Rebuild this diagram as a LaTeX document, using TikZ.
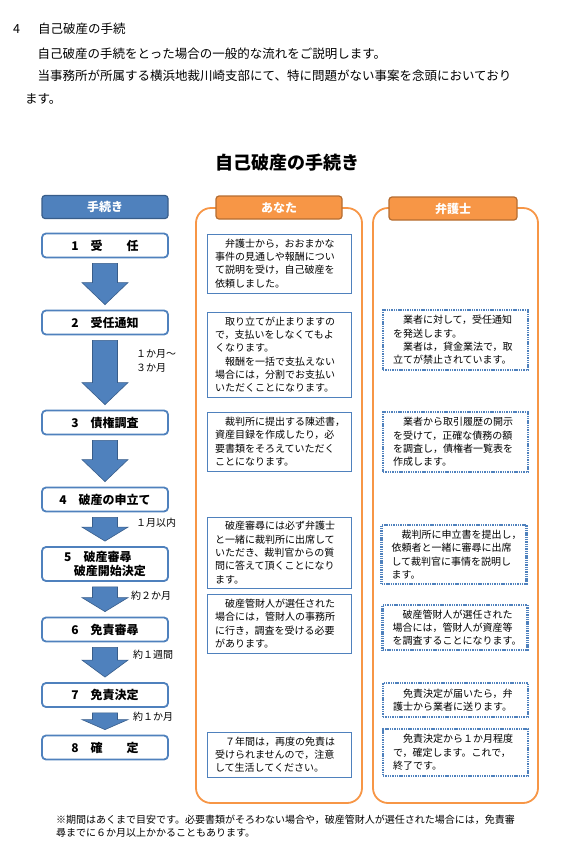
\documentclass[tikz,border=0pt]{standalone}
\usepackage{fontspec}
\setmainfont{Noto Sans CJK JP}
\usetikzlibrary{calc}

\definecolor{stepblue}{HTML}{4F81BD}
\definecolor{darkblue}{HTML}{385D8A}
\definecolor{orng}{HTML}{F79646}
\definecolor{darkorng}{HTML}{B66D31}

\begin{document}
\begin{tikzpicture}[x=1pt, y=-1pt,
  font=\fontsize{10}{13.3}\selectfont,
  head/.style={rounded corners=3pt, line width=1.2pt, text=white, inner sep=0pt,
               font=\bfseries\fontsize{12}{14}\selectfont,
               minimum width=126pt, minimum height=23pt},
  bluehead/.style={head, fill=stepblue, draw=darkblue},
  orghead/.style={head, fill=orng, draw=darkorng},
  stepbox/.style={draw=stepblue, line width=1.8pt, rounded corners=4pt, fill=white,
                  minimum width=126pt, minimum height=24pt, inner sep=0pt, align=center,
                  font=\bfseries\fontsize{12}{14}\selectfont},
  column/.style={draw=orng, line width=1.8pt, rounded corners=15pt,
                 minimum width=166pt, minimum height=595pt},
  note/.style={draw=stepblue, line width=0.8pt, align=left, text width=128pt,
               inner xsep=8pt, inner ysep=0pt},
  lawnote/.style={draw=stepblue, line width=2.2pt, dash pattern=on 1.4pt off 0.9pt,
                  align=left, text width=125pt, inner xsep=10pt, inner ysep=0pt},
  period/.style={anchor=west, align=left, inner sep=0pt},
  barrow/.style={draw=darkblue, fill=stepblue, line width=0.6pt,
    to path={let \p1=(\tikztostart.south), \p2=(\tikztotarget.north) in
      (\x1-12.5pt,\y1-5pt) -- (\x1+12.5pt,\y1-5pt) -- (\x1+12.5pt,\y2+5pt+#1)
      -- (\x1+23pt,\y2+5pt+#1) -- (\x1,\y2+5pt) -- (\x1-23pt,\y2+5pt+#1)
      -- (\x1-12.5pt,\y2+5pt+#1) -- cycle}},
  barrow/.default=22pt,
]
\useasboundingbox[fill=white] (0,0) rectangle (586,847);
% page text above the chart
\node[anchor=west, inner sep=0pt, font=\fontsize{12.5}{15}\selectfont] (secno) at (13,29) {4};
\node[anchor=west, inner sep=0pt, font=\fontsize{12.5}{15}\selectfont] (sectitle) at (38,29) {自己破産の手続};
\node[anchor=north west, inner sep=0pt, align=left, font=\fontsize{12.5}{22.4}\selectfont]
  (intro) at (25,47.5) {　自己破産の手続をとった場合の一般的な流れをご説明します。\\
  　当事務所が所属する横浜地裁川崎支部にて、特に問題がない事案を念頭においており\\ます。};
\node[font=\bfseries\fontsize{18}{20}\selectfont] (title) at (287,163) {自己破産の手続き};
% column frames and headings
\node[column] (youcol) at (279,505.5) {};
\node[column, minimum width=165pt] (lawcol) at (455.5,505.5) {};
\node[bluehead] (stephead) at (105,207) {手続き};
\node[orghead] (youhead) at (279,207.5) {あなた};
\node[orghead, minimum width=128pt] (lawhead) at (453,208.5) {弁護士};
% steps
\node[stepbox] (s1) at (105,245.5) {1\hspace{1em}受　　任};
\node[stepbox] (s2) at (105,322.5) {2\hspace{1em}受任通知};
\node[stepbox] (s3) at (105,422.5) {3\hspace{1em}債権調査};
\node[stepbox] (s4) at (105,499.5) {4\hspace{1em}破産の申立て};
\node[stepbox, minimum height=34pt, align=left] (s5) at (105,564)
  {5\hspace{1em}破産審尋\\\hspace*{0.8em}破産開始決定};
\node[stepbox] (s6) at (105,629.5) {6\hspace{1em}免責審尋};
\node[stepbox] (s7) at (105,695) {7\hspace{1em}免責決定};
\node[stepbox] (s8) at (105,747.5) {8\hspace{1em}確　　定};
\draw[barrow] (s1) to (s2);
\draw[barrow] (s2) to (s3);
\draw[barrow] (s3) to (s4);
\draw[barrow=14pt] (s4) to (s5);
\draw[barrow=14pt] (s5) to (s6);
\draw[barrow=17pt] (s6) to (s7);
\draw[barrow=10pt] (s7) to (s8);
% periods
\node[period] (p2) at (136,361) {１か月～\\３か月};
\node[period] (p4) at (136,523) {１月以内};
\node[period] (p5) at (131,596) {約２か月};
\node[period] (p6) at (133,655) {約１週間};
\node[period] (p7) at (133,717) {約１か月};
% what you do
\node[note, minimum height=59pt] (a1) at (279,263.5)
  {　弁護士から，おおまかな\\事件の見通しや報酬につい\\て説明を受け，自己破産を\\依頼しました。};
\node[note, minimum height=85pt] (a2) at (279,354.5)
  {　取り立てが止まりますの\\で，支払いをしなくてもよ\\くなります。\\　報酬を一括で支払えない\\場合には，分割でお支払い\\いただくことになります。};
\node[note, minimum height=59pt] (a3) at (279,441.5)
  {　裁判所に提出する陳述書，\\資産目録を作成したり，必\\要書類をそろえていただく\\ことになります。};
\node[note, minimum height=71pt] (a4) at (279,552.5)
  {　破産審尋には必ず弁護士\\と一緒に裁判所に出席して\\いただき、裁判官からの質\\問に答えて頂くことになり\\ます。};
\node[note, minimum height=59pt] (a5) at (279,623.5)
  {　破産管財人が選任された\\場合には，管財人の事務所\\に行き，調査を受ける必要\\があります。};
\node[note, minimum height=45pt] (a6) at (279,754.5)
  {　７年間は，再度の免責は\\受けられませんので，注意\\して生活してください。};
% what the lawyer does
\node[lawnote, minimum height=60pt] (b1) at (455.5,340)
  {　業者に対して，受任通知\\を発送します。\\　業者は，貸金業法で，取\\立てが禁止されています。};
\node[lawnote, minimum height=60pt] (b2) at (455.5,442)
  {　業者から取引履歴の開示\\を受けて，正確な債務の額\\を調査し，債権者一覧表を\\作成します。};
\node[lawnote, minimum height=59pt] (b3) at (454,554.5)
  {　裁判所に申立書を提出し，\\依頼者と一緒に審尋に出席\\して裁判官に事情を説明し\\ます。};
\node[lawnote, minimum height=45pt] (b4) at (455,627.5)
  {　破産管財人が選任された\\場合には，管財人が資産等\\を調査することになります。};
\node[lawnote, minimum height=34pt] (b5) at (455.5,700)
  {　免責決定が届いたら，弁\\護士から業者に送ります。};
\node[lawnote, minimum height=47pt] (b6) at (455.5,752.5)
  {　免責決定から１か月程度\\で，確定します。これで，\\終了です。};
% footnote
\node[anchor=north west, inner sep=0pt, align=left] (foot) at (56,815)
  {※期間はあくまで目安です。必要書類がそろわない場合や，破産管財人が選任された場合には，免責審\\尋までに６か月以上かかることもあります。};
\end{tikzpicture}
\end{document}
